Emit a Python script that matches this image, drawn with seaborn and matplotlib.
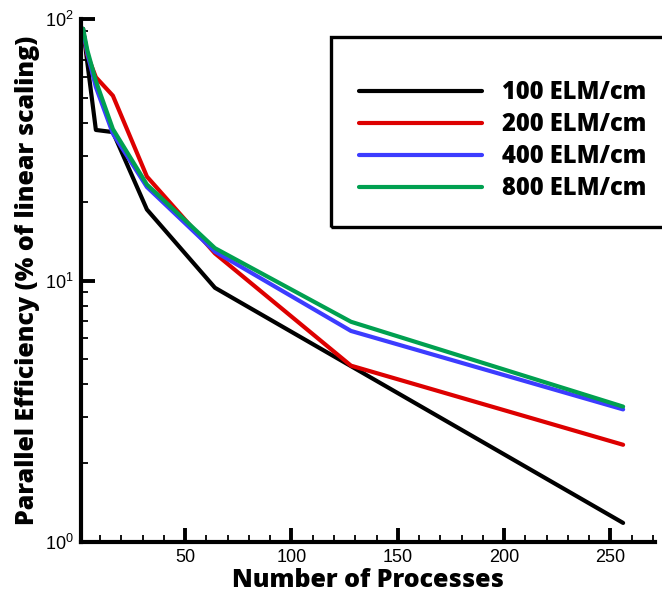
import numpy as np
import pandas as pd
import matplotlib
matplotlib.use("Agg")
import matplotlib.pyplot as plt
from matplotlib.patches import Rectangle
from matplotlib.ticker import LogLocator, MultipleLocator, NullFormatter, LogFormatterSciNotation
import seaborn as sns

# Parallel efficiency vs. number of MPI processes, one curve per mesh resolution
processes = [2, 4, 8, 16, 32, 64, 128, 256]
eff_100 = [92.0, 68.0, 37.7, 37.0, 18.7, 9.38, 4.70, 1.18]
eff_200 = [90.0, 73.0, 60.0, 51.0, 25.0, 12.7, 4.72, 2.35]
eff_400 = [90.0, 74.0, 55.0, 36.5, 22.8, 12.9, 6.41, 3.21]
eff_800 = [92.0, 76.0, 58.0, 38.0, 23.3, 13.3, 6.95, 3.29]
series_names = ["100 ELM/cm", "200 ELM/cm", "400 ELM/cm", "800 ELM/cm"]
series_colors = ["#000000", "#dd0000", "#3c3cff", "#00a050"]
x_ticks = [50, 100, 150, 200, 250]

frames = []
for name, vals in zip(series_names, [eff_100, eff_200, eff_400, eff_800]):
    frames.append(pd.DataFrame({"procs": processes, "eff": vals, "series": name}))
df = pd.concat(frames, ignore_index=True)

sns.set_style("white")
plt.rcParams["font.family"] = ["Liberation Sans", "DejaVu Sans"]
plt.rcParams["mathtext.fontset"] = "custom"
plt.rcParams["mathtext.rm"] = "Liberation Sans"
plt.rcParams["text.color"] = "black"
plt.rcParams["axes.labelcolor"] = "black"
plt.rcParams["xtick.color"] = "black"
plt.rcParams["ytick.color"] = "black"

fig = plt.figure(figsize=(6.62, 5.95), dpi=100)
ax = fig.add_axes([81 / 662, 1 - 541.7 / 595, (655 - 81) / 662, (541.7 - 19.3) / 595])

sns.lineplot(data=df, x="procs", y="eff", hue="series", hue_order=series_names,
             palette=series_colors, linewidth=3.0, estimator=None, sort=False,
             ax=ax, legend=True)

ax.set_yscale("log")
ax.set_ylim(1, 100)
ax.set_xlim(1, 271)

ax.xaxis.set_major_locator(MultipleLocator(50))
ax.xaxis.set_minor_locator(MultipleLocator(10))
ax.set_xticks(x_ticks)
ax.yaxis.set_major_locator(LogLocator(base=10))
ax.yaxis.set_minor_locator(LogLocator(base=10, subs=np.arange(2, 10)))
ax.yaxis.set_major_formatter(LogFormatterSciNotation())
ax.yaxis.set_minor_formatter(NullFormatter())

for side in ["top", "right"]:
    ax.spines[side].set_visible(False)
for side in ["left", "bottom"]:
    ax.spines[side].set_linewidth(3.0)
    ax.spines[side].set_color("black")

ax.tick_params(which="both", bottom=True, left=True, top=False, right=False)
ax.tick_params(which="major", direction="in", length=10, width=2.8, colors="black",
               labelcolor="black", labelsize=13, pad=5)
ax.tick_params(which="minor", direction="in", length=5, width=1.3, colors="black")

ax.set_xlabel("Number of Processes", fontsize=18, fontweight=800,
              family=["Open Sans", "DejaVu Sans"], labelpad=2, color="black")
ax.set_ylabel("Parallel Efficiency (% of linear scaling)", fontsize=18,
              fontweight=800, family=["Open Sans", "DejaVu Sans"], labelpad=4,
              color="black")

leg = ax.legend(loc="center left", bbox_to_anchor=(359.3 / 662, 1 - 140.5 / 595),
                bbox_transform=fig.transFigure, frameon=False, borderpad=0,
                borderaxespad=0, handlelength=123 / 23.6, handletextpad=19.4 / 23.6,
                labelspacing=0.30, prop={"family": ["Open Sans", "DejaVu Sans"],
                                          "weight": 800, "size": 17})
for line in leg.get_lines():
    line.set_linewidth(3.0)
for text in leg.get_texts():
    text.set_color("black")

# Legend frame, open on the right where it runs off the figure
fig.patches.append(Rectangle((331 / 662, 1 - 227 / 595), 0.6, (227 - 37) / 595,
                             transform=fig.transFigure, fill=False,
                             edgecolor="black", linewidth=2.4, clip_on=False))

fig.savefig("out.png", dpi=100)
